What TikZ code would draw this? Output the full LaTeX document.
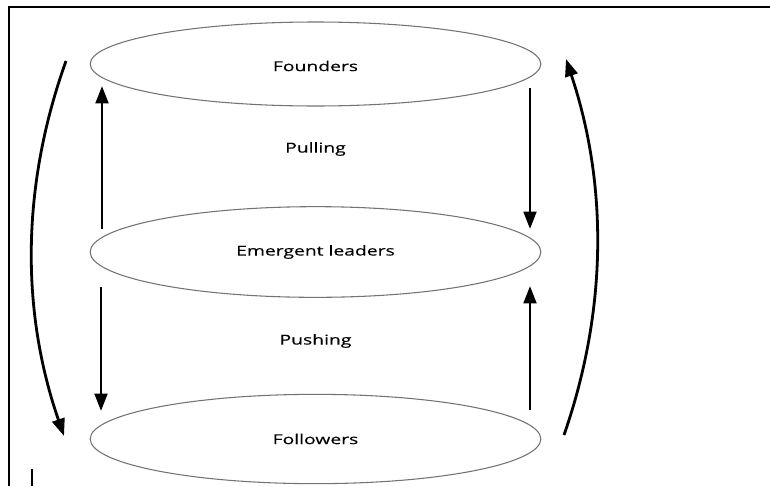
\documentclass[tikz,border=0pt]{standalone}
\usepackage{fontspec}
\setmainfont{Open Sans}[FakeStretch=1.42,FakeBold=0.4]
\usetikzlibrary{shapes.geometric,arrows.meta}
\begin{document}
\begin{tikzpicture}[x=0.75pt,y=-0.75pt,
  oval/.style={draw=black!55, line width=0.8pt, ellipse, inner sep=0pt, minimum width=338pt},
  lbl/.style={font=\fontsize{10.2}{12}\selectfont, inner sep=0pt},
  arr/.style={line width=2.1pt, -{Triangle[length=13pt,width=9.5pt]}},
  frame/.style={line width=1.5pt}]
\useasboundingbox (0,0) rectangle (770,486);
% frame
\draw[frame] (9,486) -- (9,7) -- (770,7);
\draw[line width=1.3pt] (32,469) -- (32,486);
% ellipses
\node[oval, minimum height=63pt] (fo) at (315.5,64) {};
\node[oval, minimum height=68pt] (em) at (315.5,252) {};
\node[oval, minimum height=67pt] (fl) at (315.5,439) {};
\node[lbl] (tfo) at (315.5,66) {Founders};
\node[lbl] (tem) at (315.5,252) {Emergent leaders};
\node[lbl] (tfl) at (315.5,439) {Followers};
\node[lbl] (pull) at (315.5,149) {Pulling};
\node[lbl] (push) at (315.5,341) {Pushing};
% straight arrow ends
\coordinate (a1s) at (102,229);
\coordinate (a1e) at (102,86);
\coordinate (a2s) at (530,88);
\coordinate (a2e) at (530,229);
\coordinate (a3s) at (101,287);
\coordinate (a3e) at (101,411);
\coordinate (a4s) at (530,410);
\coordinate (a4e) at (530,286);
\draw[arr] (a1s) -- (a1e);
\draw[arr] (a2s) -- (a2e);
\draw[arr] (a3s) -- (a3e);
\draw[arr] (a4s) -- (a4e);
% curved arrows
\coordinate (l1) at (66,61);
\coordinate (l2) at (64,436);
\coordinate (r1) at (564,435);
\coordinate (r2) at (566,59);
\draw[arr] (l1) .. controls (21.3,185.7) and (20.7,310.7) .. (l2);
\draw[arr] (r1) .. controls (607.3,310.3) and (608,185) .. (r2);
\end{tikzpicture}
\end{document}
